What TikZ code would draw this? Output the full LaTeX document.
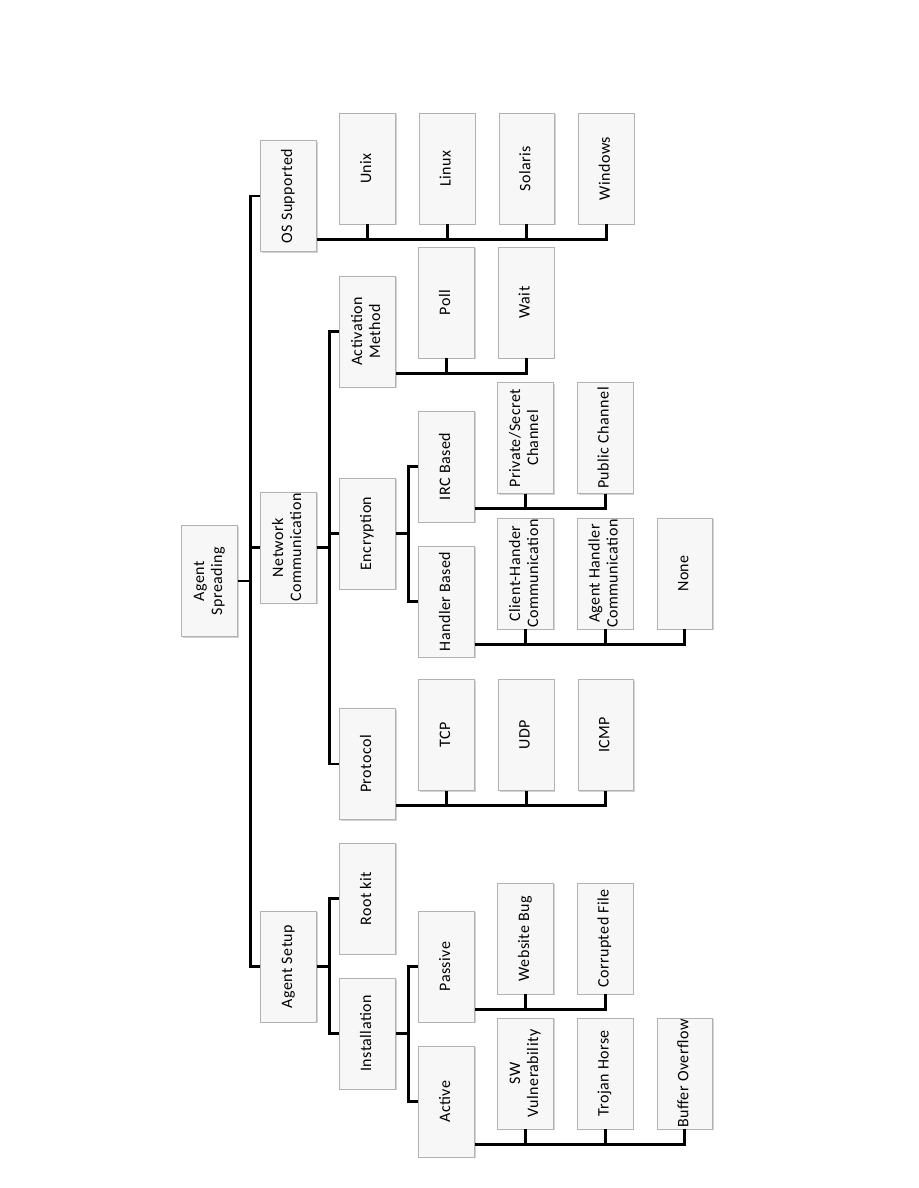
\documentclass[tikz,border=0pt]{standalone}
\usepackage{fontspec}
\setmainfont{Carlito}[LetterSpace=3]
\usepackage{tikz}
\usetikzlibrary{positioning,shadows}

\newcommand{\vtext}[1]{\rotatebox{90}{\begin{tabular}{@{}c@{}}#1\end{tabular}}}

\begin{document}
\begin{tikzpicture}[
x=1pt, y=-1pt,
node distance=23.5pt,
box/.style={draw=gray!60, fill=gray!6, line width=0.6pt, minimum width=55.5pt, minimum height=111pt,
  inner sep=0pt, font=\fontsize{16}{18}\selectfont,
  drop shadow={shadow xshift=1.3pt, shadow yshift=-1.3pt, opacity=0.35, fill=gray}},
link/.style={line width=2.8pt}
]
\useasboundingbox (0,0) rectangle (918,1188);

% root and first level
\node[box] (agsp) at (209.5,581) {\vtext{Agent\\Spreading}};
\node[box] (osup) at (288.5,196) {\vtext{OS Supported}};
\node[box] (netc) at (288.5,547.5) {\vtext{Network\\Communication}};
\node[box] (agset) at (288.5,966.5) {\vtext{Agent Setup}};

% OS supported
\node[box] (unix) at (367.5,168.5) {\vtext{Unix}};
\node[box, right=of unix] (linux) {\vtext{Linux}};
\node[box, right=of linux] (solaris) {\vtext{Solaris}};
\node[box, right=of solaris] (windows) {\vtext{Windows}};

% network communication
\node[box] (actm) at (367.5,331.5) {\vtext{Activation\\Method}};
\node[box] (poll) at (446.5,302.5) {\vtext{Poll}};
\node[box, right=of poll] (wait) {\vtext{Wait}};
\node[box] (encr) at (367.5,533.5) {\vtext{Encryption}};
\node[box] (irc) at (446.5,466.5) {\vtext{IRC Based}};
\node[box] (priv) at (525.5,438) {\vtext{Private/Secret\\Channel}};
\node[box, right=of priv] (pubc) {\vtext{Public Channel}};
\node[box] (handb) at (446.5,601.5) {\vtext{Handler Based}};
\node[box] (clih) at (525.5,573.5) {\vtext{Client-Hander\\Communication}};
\node[box, right=of clih] (agh) {\vtext{Agent Handler\\Communication}};
\node[box, right=of agh] (none) {\vtext{None}};
\node[box] (prot) at (367.5,764) {\vtext{Protocol}};
\node[box] (tcp) at (446.5,735) {\vtext{TCP}};
\node[box, right=of tcp] (udp) {\vtext{UDP}};
\node[box, right=of udp] (icmp) {\vtext{ICMP}};

% agent setup
\node[box] (rootk) at (367.5,898.5) {\vtext{Root kit}};
\node[box] (inst) at (367.5,1033.5) {\vtext{Installation}};
\node[box] (passv) at (446.5,966.5) {\vtext{Passive}};
\node[box] (webb) at (525.5,938.5) {\vtext{Website Bug}};
\node[box, right=of webb] (corf) {\vtext{Corrupted File}};
\node[box] (activ) at (446.5,1101.5) {\vtext{Active}};
\node[box] (swv) at (525.5,1073.5) {\vtext{SW\\Vulnerability}};
\node[box, right=of swv] (troj) {\vtext{Trojan Horse}};
\node[box, right=of troj] (bufo) {\vtext{Buffer Overflow}};

% branches
\foreach \p/\c in {agsp/osup, agsp/netc, agsp/agset, netc/actm, netc/encr, netc/prot,
  encr/irc, encr/handb, agset/rootk, agset/inst, inst/passv, inst/activ}
  \draw[link] (\p.east) -- ++(13,0) |- (\c.west);

% buses below the leaves
\draw[link] (windows.south) -- ++(0,15) coordinate (osbus) -- (osbus -| osup.east);
\foreach \n in {unix,linux,solaris} \draw[link] (\n.south) -- (\n.south |- osbus);
\draw[link] (wait.south) -- ++(0,15) coordinate (actbus) -- (actbus -| actm.east);
\draw[link] (poll.south) -- (poll.south |- actbus);
\draw[link] (pubc.south) -- ++(0,15) coordinate (ircbus) -- (ircbus -| irc.east);
\draw[link] (priv.south) -- (priv.south |- ircbus);
\draw[link] (none.south) -- ++(0,15) coordinate (hbus) -- (hbus -| handb.east);
\foreach \n in {clih,agh} \draw[link] (\n.south) -- (\n.south |- hbus);
\draw[link] (icmp.south) -- ++(0,15) coordinate (pbus) -- (pbus -| prot.east);
\foreach \n in {tcp,udp} \draw[link] (\n.south) -- (\n.south |- pbus);
\draw[link] (corf.south) -- ++(0,15) coordinate (pvbus) -- (pvbus -| passv.east);
\draw[link] (webb.south) -- (webb.south |- pvbus);
\draw[link] (bufo.south) -- ++(0,15) coordinate (acbus) -- (acbus -| activ.east);
\foreach \n in {swv,troj} \draw[link] (\n.south) -- (\n.south |- acbus);
\end{tikzpicture}
\end{document}
